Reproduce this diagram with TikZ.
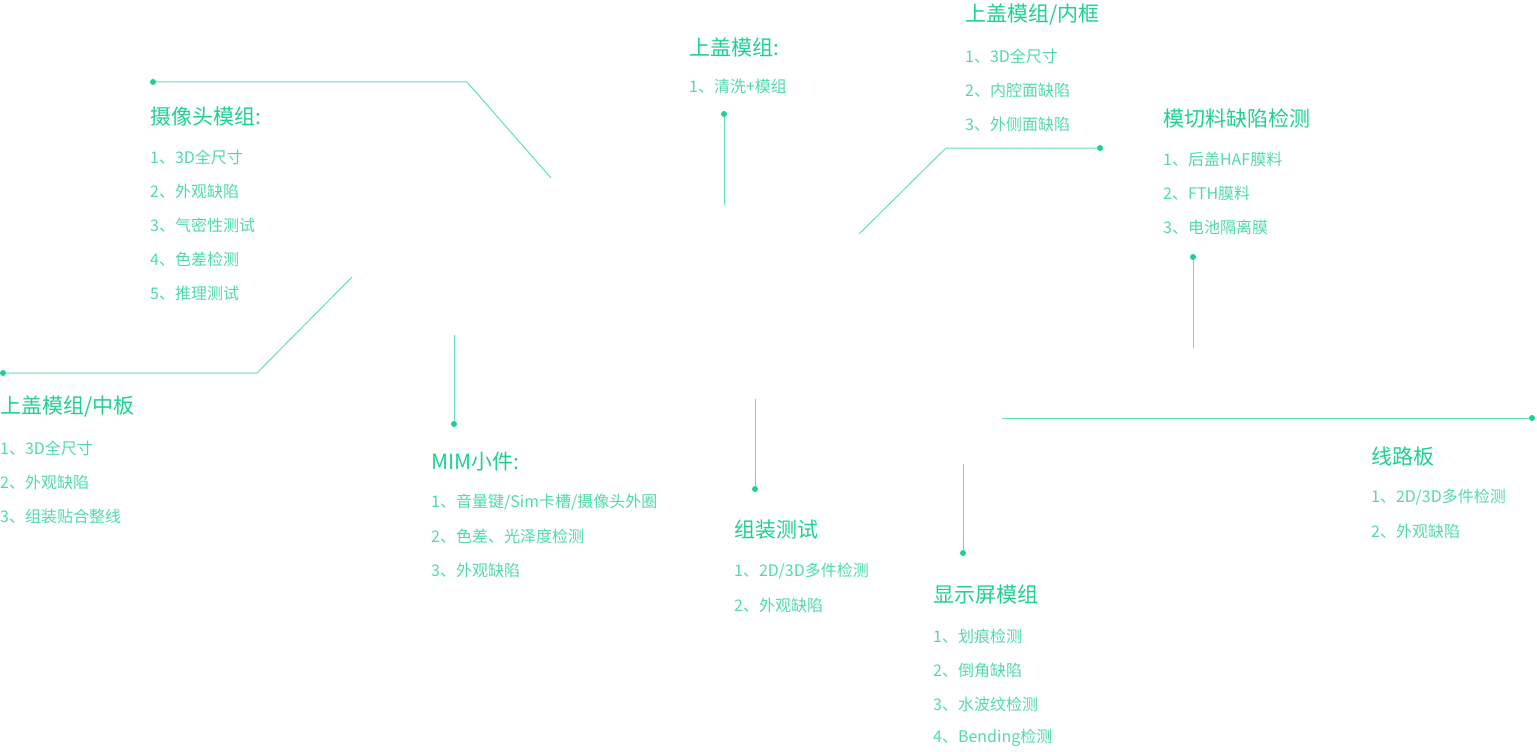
\documentclass[tikz,border=0pt]{standalone}
\usepackage{fontspec}
\setmainfont{Noto Sans CJK SC}
\begin{document}
\definecolor{tc}{HTML}{1DD28E}
\definecolor{ic}{HTML}{4FDBA9}
\definecolor{lc}{HTML}{5FE3B4}
\begin{tikzpicture}[x=1pt,y=-1pt,
  ttl/.style={anchor=west,inner sep=0pt,text=tc,font=\fontsize{21}{21}\selectfont},
  itm/.style={anchor=west,inner sep=0pt,text=ic,font=\fontsize{16}{16}\selectfont},
  ln/.style={draw=lc,line width=1pt},
  dot/.style={circle,fill=tc,inner sep=0pt,minimum size=6pt}]
\useasboundingbox (0,0) rectangle (1537,752);
% camera module
\node[dot] (d1) at (153,82) {};
\coordinate (b1) at (467,82); \coordinate (e1) at (551,178);
\draw[ln] (d1) -- (b1) -- (e1);
\node[ttl] (t1) at (150,117) {摄像头模组:};
\node[itm] (t1a) at (150,157) {1、3D全尺寸};
\node[itm] (t1b) at (150,191) {2、外观缺陷};
\node[itm] (t1c) at (150,225) {3、气密性测试};
\node[itm] (t1d) at (150,259) {4、色差检测};
\node[itm] (t1e) at (150,293) {5、推理测试};
% middle plate
\coordinate (s2) at (352,277); \coordinate (b2) at (257,373);
\node[dot] (d2) at (3,373) {};
\draw[ln] (s2) -- (b2) -- (d2);
\node[ttl] (t2) at (0,407) {上盖模组/中板};
\node[itm] (t2a) at (0,448) {1、3D全尺寸};
\node[itm] (t2b) at (0,482) {2、外观缺陷};
\node[itm] (t2c) at (0,516) {3、组装贴合整线};
% MIM
\coordinate (s3) at (454,335); \node[dot] (d3) at (454,424) {};
\draw[ln] (s3) -- (d3);
\node[ttl] (t3) at (431,462) {MIM小件:};
\node[itm] (t3a) at (431,502) {1、音量键/Sim卡槽/摄像头外圈};
\node[itm] (t3b) at (431,536) {2、色差、光泽度检测};
\node[itm] (t3c) at (431,570) {3、外观缺陷};
% top cover
\node[dot] (d4) at (724,114) {}; \coordinate (e4) at (724,205);
\draw[ln] (d4) -- (e4);
\node[ttl] (t4) at (689,47) {上盖模组:};
\node[itm] (t4a) at (689,86) {1、清洗+模组};
% inner frame
\coordinate (s5) at (859,234); \coordinate (b5) at (946,148);
\node[dot] (d5) at (1100,148) {};
\draw[ln] (s5) -- (b5) -- (d5);
\node[ttl] (t5) at (965,15) {上盖模组/内框};
\node[itm] (t5a) at (965,56) {1、3D全尺寸};
\node[itm] (t5b) at (965,90) {2、内腔面缺陷};
\node[itm] (t5c) at (965,124) {3、外侧面缺陷};
% die cut
\node[dot] (d6) at (1193,257) {}; \coordinate (e6) at (1193,348);
\draw[ln] (d6) -- (e6);
\node[ttl] (t6) at (1163,118) {模切料缺陷检测};
\node[itm] (t6a) at (1163,159) {1、后盖HAF膜料};
\node[itm] (t6b) at (1163,193) {2、FTH膜料};
\node[itm] (t6c) at (1163,227) {3、电池隔离膜};
% circuit board
\coordinate (s7) at (1002,418); \node[dot] (d7) at (1532,418) {};
\draw[ln] (s7) -- (d7);
\node[ttl] (t7) at (1371,457) {线路板};
\node[itm] (t7a) at (1371,497) {1、2D/3D多件检测};
\node[itm] (t7b) at (1371,531) {2、外观缺陷};
% assembly
\coordinate (s8) at (755,399); \node[dot] (d8) at (755,489) {};
\draw[ln] (s8) -- (d8);
\node[ttl] (t8) at (734,530) {组装测试};
\node[itm] (t8a) at (734,571) {1、2D/3D多件检测};
\node[itm] (t8b) at (734,605) {2、外观缺陷};
% display
\coordinate (s9) at (963,464); \node[dot] (d9) at (963,553) {};
\draw[ln] (s9) -- (d9);
\node[ttl] (t9) at (933,595) {显示屏模组};
\node[itm] (t9a) at (933,636) {1、划痕检测};
\node[itm] (t9b) at (933,670) {2、倒角缺陷};
\node[itm] (t9c) at (933,704) {3、水波纹检测};
\node[itm] (t9d) at (933,738) {4、Bending检测};
\end{tikzpicture}
\end{document}
